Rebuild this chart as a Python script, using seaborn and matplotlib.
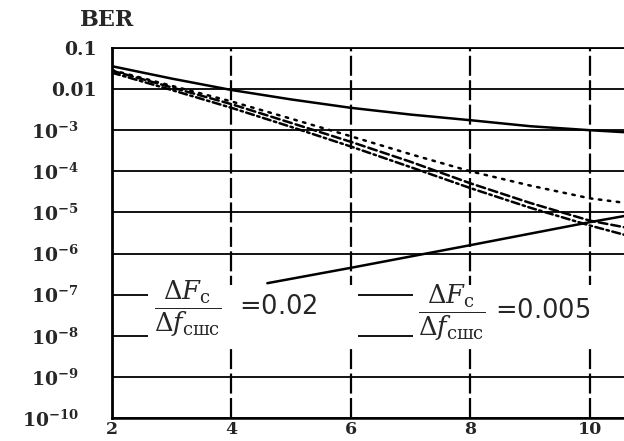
import matplotlib
matplotlib.use("Agg")
import matplotlib.pyplot as plt
import matplotlib.transforms as mtransforms
from matplotlib.patches import Rectangle
import numpy as np
import pandas as pd
import seaborn as sns

# ---- data ----
snr = [2, 3, 4, 5, 6, 7, 8, 9, 10, 10.6]
ber_solid = [3.6e-2, 1.8e-2, 9.5e-3, 5.6e-3, 3.5e-3, 2.4e-3, 1.75e-3, 1.25e-3, 1.0e-3, 8.9e-4]
ber_dotted = [2.9e-2, 1.2e-2, 5.0e-3, 1.9e-3, 7.1e-4, 2.6e-4, 1.0e-4, 4.5e-5, 2.2e-5, 1.7e-5]
ber_dashed = [2.8e-2, 1.1e-2, 4.3e-3, 1.5e-3, 5.2e-4, 1.7e-4, 5.1e-5, 1.7e-5, 6.3e-6, 4.3e-6]
ber_dashdot = [2.5e-2, 9.5e-3, 3.5e-3, 1.2e-3, 4.0e-4, 1.26e-4, 3.9e-5, 1.3e-5, 4.8e-6, 2.8e-6]
snr_rise = [4.6, 6, 8, 10, 10.6]
ber_rise = [1.9e-7, 4.5e-7, 1.6e-6, 5.8e-6, 8.3e-6]

x_ticks = [2, 4, 6, 8, 10]
y_ticks = [1e-1, 1e-2, 1e-3, 1e-4, 1e-5, 1e-6, 1e-7, 1e-8, 1e-9, 1e-10]
y_labels = ["0.1", "0.01"] + [r"$\mathbf{10^{-%d}}$" % k for k in range(3, 11)]
legend_1 = r"$\dfrac{\Delta F_{\mathrm{с}}}{\Delta f_{\mathrm{сшс}}}$  =0.02"
legend_2 = r"$\dfrac{\Delta F_{\mathrm{с}}}{\Delta f_{\mathrm{сшс}}}$ =0.005"

frames = []
for name, xs, ys in [("solid", snr, ber_solid), ("dotted", snr, ber_dotted),
                     ("dashed", snr, ber_dashed), ("dashdot", snr, ber_dashdot),
                     ("rise", snr_rise, ber_rise)]:
    frames.append(pd.DataFrame({"snr": xs, "ber": ys, "curve": name}))
df = pd.concat(frames, ignore_index=True)

sns.set_style("white")
plt.rcParams["font.family"] = ["DejaVu Serif"]
plt.rcParams["mathtext.fontset"] = "dejavuserif"

fig = plt.figure(figsize=(6.24, 4.41), dpi=100)
ax = fig.add_axes([0.1795, 0.0522, 0.8205, 0.839])

dash_map = {"solid": "", "dotted": (1, 2.6), "dashed": (3.5, 1.6),
            "dashdot": (3.2, 1.4, 1, 1.4), "rise": ""}
sns.lineplot(data=df, x="snr", y="ber", style="curve", dashes=dash_map,
             color="black", linewidth=1.8, legend=False, ax=ax, zorder=5,
             sort=True, estimator=None)
for ln in ax.get_lines():
    ln.set_dash_capstyle("round")

ax.set_yscale("log")
ax.set_xlim(2, 10.57)
ax.set_ylim(1e-10, 1e-1)
ax.minorticks_off()
ax.set_xticks(x_ticks)
ax.set_xticklabels([str(t) for t in x_ticks], fontsize=12.5, fontweight="bold")
ax.set_yticks(y_ticks)
ax.set_yticklabels(y_labels, fontsize=13.5, fontweight="bold")
ax.tick_params(axis="both", length=0)
ax.tick_params(axis="y", pad=24)
ax.tick_params(axis="x", pad=2)
shift = mtransforms.ScaledTranslation(18 / 100, 0, fig.dpi_scale_trans)
for lab in ax.get_yticklabels()[:2]:
    lab.set_transform(lab.get_transform() + shift)

ax.grid(axis="y", color="black", linewidth=1.3, linestyle="-")
ax.grid(axis="x", color="black", linewidth=1.6, linestyle=(0, (9, 2)))
ax.set_axisbelow(True)

for side in ["left", "bottom", "top"]:
    ax.spines[side].set_visible(True)
    ax.spines[side].set_color("black")
ax.spines["left"].set_linewidth(2.0)
ax.spines["bottom"].set_linewidth(1.8)
ax.spines["top"].set_linewidth(1.3)
ax.spines["right"].set_visible(False)

ax.set_xlabel("")
ax.set_ylabel("")

fig.text(0.128, 0.955, "BER", fontsize=16, fontweight="bold", ha="left", va="center")

# white masks behind the two annotations (gridlines are interrupted there)
ax.add_patch(Rectangle((0.070, 0.197), 0.41, 0.162, transform=ax.transAxes,
                       facecolor="white", edgecolor="none", zorder=3))
ax.add_patch(Rectangle((0.588, 0.189), 0.412, 0.170, transform=ax.transAxes,
                       facecolor="white", edgecolor="none", zorder=3))

ax.text(2.70, 4.5e-8, legend_1, fontsize=18.5, family="DejaVu Sans", ha="left",
        va="center", zorder=4)
ax.text(7.12, 3.6e-8, legend_2, fontsize=18.5, family="DejaVu Sans", ha="left",
        va="center", zorder=4)

fig.savefig("out.png", dpi=100)
